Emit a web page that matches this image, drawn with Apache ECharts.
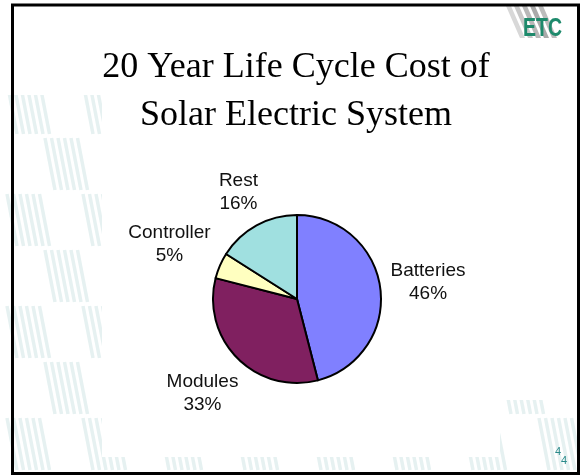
<!DOCTYPE html>
<html>
<head>
<meta charset="utf-8">
<script src="https://cdn.jsdelivr.net/npm/echarts@6/dist/echarts.min.js"></script>
<style>
  html, body { margin: 0; padding: 0; background: #fff; }
  #chart { width: 581px; height: 475px; }
</style>
</head>
<body>
<div id="chart"></div>
<script>
// ---- data ----
var categories = ['Batteries', 'Modules', 'Controller', 'Rest'];
var values = [46, 33, 5, 16];
var sliceColors = ['#8080FF', '#802060', '#FFFFC0', '#A0E0E0'];
var titleLines = ['20 Year Life Cycle Cost of', 'Solar Electric System'];
var pageNumber = '4';

// ---- layout ----
var CX = 297, CY = 299, R = 84, LABEL_GAP = 8;
var total = values.reduce(function (a, b) { return a + b; }, 0);

function midAngle(idx) {
  var before = 0;
  for (var i = 0; i < idx; i++) before += values[i];
  var frac = (before + values[idx] / 2) / total;
  return frac * Math.PI * 2; // clockwise from 12 o'clock
}

// ---- decorative background stripes ----
var deco = [];
var W = 38, H = 56;
function addBlock(x0, y0) {
  for (var k = 0; k < 6; k++) {
    deco.push({
      type: 'line',
      shape: { x1: x0 + k * 6.5 + 1, y1: y0 + 2, x2: x0 + k * 6.5 + 11, y2: y0 + H - 2 },
      style: { stroke: '#e6f1f1', lineWidth: 3.5 },
      silent: true
    });
  }
}
for (var j = 0; j < 9; j++) {
  for (var i = 0; i < 16; i++) {
    if ((i + j) % 2 === 0) {
      addBlock(6 + i * W, 80 + j * H);
    }
  }
}
// cover the central area in white
deco.push({ type: 'rect', shape: { x: 102, y: 0, width: 398, height: 457 }, style: { fill: '#fff' }, silent: true });
deco.push({ type: 'rect', shape: { x: 490, y: 0, width: 91, height: 400 }, style: { fill: '#fff' }, silent: true });
deco.push({ type: 'rect', shape: { x: 0, y: 0, width: 581, height: 95 }, style: { fill: '#fff' }, silent: true });
deco.push({ type: 'rect', shape: { x: 0, y: 472, width: 581, height: 10 }, style: { fill: '#fff' }, silent: true });
deco.push({ type: 'rect', shape: { x: 577, y: 0, width: 10, height: 475 }, style: { fill: '#fff' }, silent: true });

// logo stripes
var greys = ['#d8d8d8', '#c8c8c8', '#b8b8b8', '#aaaaaa', '#bcbcbc'];
for (var g = 0; g < 5; g++) {
  var lx = 506 + g * 8;
  deco.push({
    type: 'polygon',
    shape: { points: [[lx, 6], [lx + 5, 6], [lx + 19, 38], [lx + 14, 38]] },
    style: { fill: greys[g] },
    silent: true
  });
}
deco.push({
  type: 'text', x: 523, y: 17, scaleX: 0.78,
  style: { text: 'ETC', fill: '#1e8a6c', font: 'bold 25px "Liberation Sans", Arial, sans-serif' },
  silent: true
});
// slide border
deco.push({
  type: 'rect',
  shape: { x: 12.5, y: 5, width: 566, height: 468.5 },
  style: { fill: null, stroke: '#000', lineWidth: 3 },
  silent: true
});
// page number
deco.push({ type: 'text', x: 555, y: 446, style: { text: pageNumber, fill: '#2a8a8a', font: '11px "Liberation Sans", Arial, sans-serif' }, silent: true });
deco.push({ type: 'text', x: 561, y: 455, style: { text: pageNumber, fill: '#2a8a8a', font: '11px "Liberation Sans", Arial, sans-serif' }, silent: true });

var chart = echarts.init(document.getElementById('chart'), null, { renderer: 'canvas' });
chart.setOption({
  backgroundColor: '#fff',
  animation: false,
  title: {
    text: titleLines.join('\n'),
    left: 291,
    textAlign: 'center',
    top: 39,
    textStyle: {
      fontFamily: '"Liberation Serif", "Times New Roman", serif',
      fontSize: 36,
      fontWeight: 'normal',
      lineHeight: 48,
      color: '#000'
    }
  },
  graphic: { elements: deco },
  series: [{
    type: 'pie',
    center: [CX, CY],
    radius: R,
    startAngle: 90,
    clockwise: true,
    avoidLabelOverlap: false,
    silent: true,
    data: categories.map(function (c, i) {
      return { name: c, value: values[i], itemStyle: { color: sliceColors[i] } };
    }),
    itemStyle: { borderColor: '#000', borderWidth: 2 },
    label: {
      show: true,
      position: 'outside',
      formatter: function (p) { return p.name + '\n' + p.value + '%'; },
      fontFamily: '"Liberation Sans", Arial, sans-serif',
      fontSize: 19,
      lineHeight: 23,
      color: '#111'
    },
    labelLine: { show: false },
    labelLayout: function (params) {
      var a = midAngle(params.dataIndex);
      var dx = Math.sin(a), dy = -Math.cos(a);
      var w = params.labelRect.width / 2, h = params.labelRect.height / 2;
      var d = R + LABEL_GAP + Math.abs(dx) * w + Math.abs(dy) * h;
      return { x: CX + dx * d, y: CY + dy * d, align: 'center', verticalAlign: 'middle' };
    }
  }]
});
</script>
</body>
</html>
